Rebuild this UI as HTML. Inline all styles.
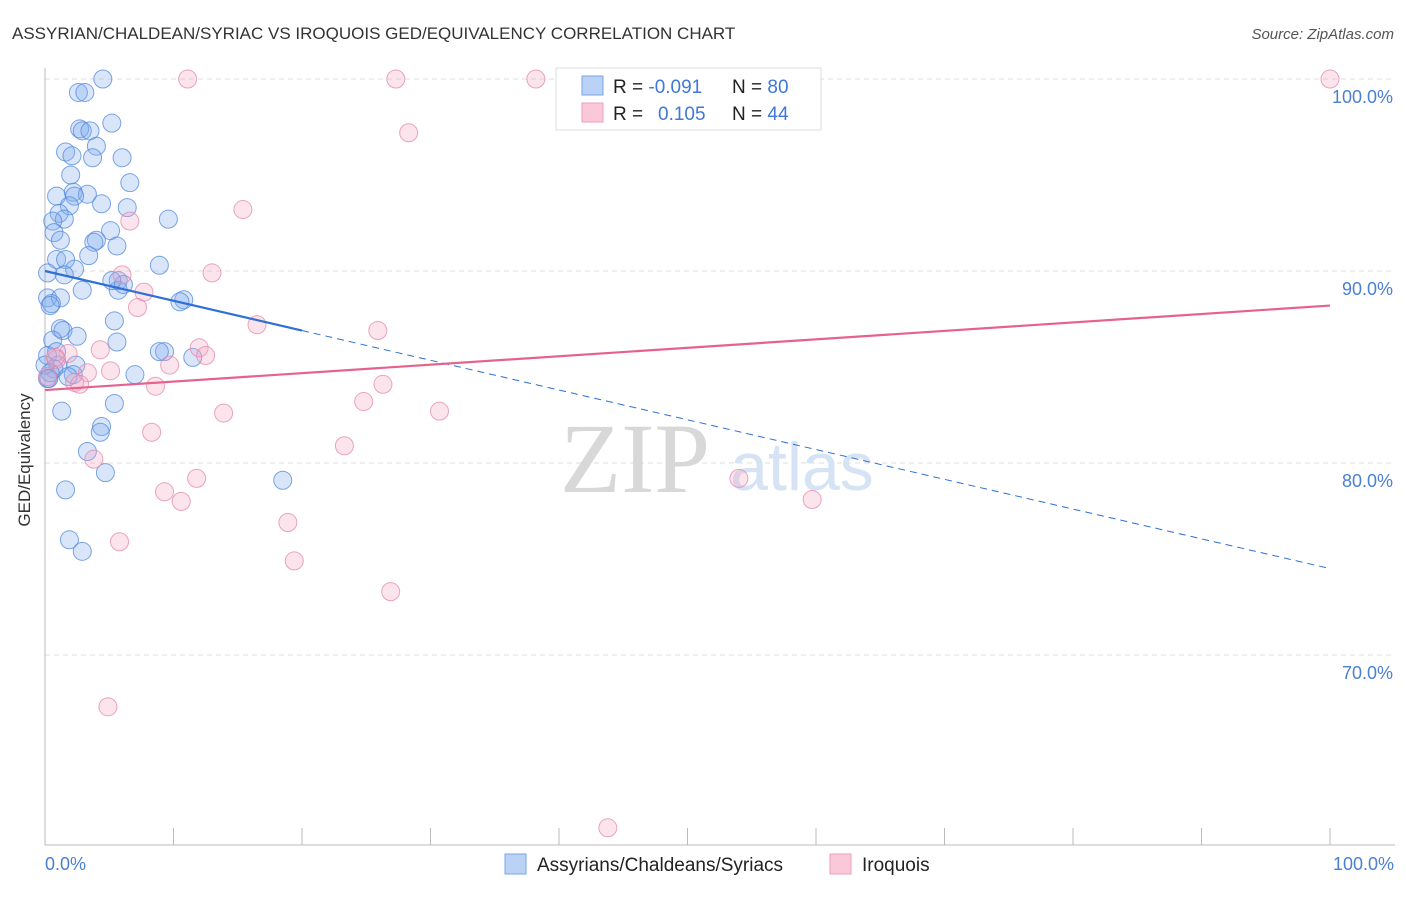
<!DOCTYPE html>
<html><head><meta charset="utf-8"><style>
body{margin:0;background:#fff;font-family:"Liberation Sans",sans-serif;}
svg text{font-family:"Liberation Sans",sans-serif;}
svg text.serif{font-family:"Liberation Serif",serif;}
</style></head><body>
<svg id="chart" width="1406" height="892" xmlns="http://www.w3.org/2000/svg">
<text x="12" y="39" font-size="17" fill="#333">ASSYRIAN/CHALDEAN/SYRIAC VS IROQUOIS GED/EQUIVALENCY CORRELATION CHART</text>
<text x="1394" y="39" font-size="15" fill="#555" font-style="italic" text-anchor="end">Source: ZipAtlas.com</text>
<g id="grid"></g>
<text class="serif" x="635" y="492" font-size="100" fill="#d8d8d8" text-anchor="middle">ZIP</text>
<text x="802" y="490" font-size="68" fill="#d6e3f5" text-anchor="middle">atlas</text>
<g id="pts"></g>
<g id="trends"></g>
<text x="30" y="460" font-size="17" fill="#333" text-anchor="middle" transform="rotate(-90 30 460)">GED/Equivalency</text>
<text x="45" y="870" font-size="18" fill="#4a7fd4">0.0%</text>
<text x="1394" y="870" font-size="18" fill="#4a7fd4" text-anchor="end">100.0%</text>
<g>
<rect x="556" y="68" width="265" height="62" fill="#fff" stroke="#ddd"/>
<rect x="582" y="76" width="21" height="19" fill="#b9d2f5" stroke="#7aa4e6"/>
<rect x="582" y="103" width="21" height="19" fill="#fac8d8" stroke="#eba0b8"/>
<text x="613" y="93" font-size="19" fill="#222">R = <tspan fill="#3f78d8">-0.091</tspan></text>
<text x="732" y="93" font-size="19" fill="#222">N = <tspan fill="#3f78d8">80</tspan></text>
<text x="613" y="120" font-size="19" fill="#222">R = <tspan fill="#3f78d8" x="658">0.105</tspan></text>
<text x="732" y="120" font-size="19" fill="#222">N = <tspan fill="#3f78d8">44</tspan></text>
</g>
<g>
<rect x="505" y="854" width="21" height="20" fill="#b9d2f5" stroke="#7aa4e6"/>
<text x="537" y="871" font-size="19" fill="#222">Assyrians/Chaldeans/Syriacs</text>
<rect x="830" y="854" width="21" height="20" fill="#fac8d8" stroke="#eba0b8"/>
<text x="862" y="871" font-size="19" fill="#222">Iroquois</text>
</g>
</svg>
<script>
const yTicks=[100,90,80,70];
const xTickVals=[0,10,20,30,40,50,60,70,80,90,100];
const blueX=[4.5,2.6,3.1,5.2,2.7,2.9,3.5,4.0,1.6,2.1,6.0,3.7,2.0,6.6,2.2,0.9,3.3,2.3,4.4,1.9,6.4,1.1,1.5,9.6,0.6,0.7,5.1,1.2,4.0,3.8,5.6,3.4,0.9,1.6,8.9,2.3,0.2,1.5,5.7,2.9,5.7,0.2,1.2,0.5,0.4,10.8,10.5,5.4,1.2,1.4,2.5,0.6,5.6,9.3,11.5,0.2,1.0,2.4,0.7,2.2,1.8,7.0,1.3,5.4,4.4,4.3,3.3,4.7,1.6,18.5,1.9,2.9,0.9,0.2,0.4,0.0,6.1,8.9,5.2,0.3];
const blueY=[100,99.3,99.3,97.7,97.4,97.3,97.3,96.5,96.2,96.0,95.9,95.9,95.0,94.6,94.1,93.9,94.0,93.9,93.5,93.4,93.3,93.0,92.7,92.7,92.6,92.0,92.1,91.6,91.6,91.5,91.3,90.8,90.6,90.6,90.3,90.1,89.9,89.8,89.5,89.0,89.0,88.6,88.6,88.3,88.2,88.5,88.4,87.4,87.0,86.9,86.6,86.4,86.3,85.8,85.5,85.6,85.1,85.1,84.9,84.6,84.5,84.6,82.7,83.1,81.9,81.6,80.6,79.5,78.6,79.1,76.0,75.4,85.8,84.4,84.7,85.1,89.3,85.8,89.5,84.4];
const pinkX=[11.1,27.3,38.2,100,28.3,15.4,6.6,13.0,6.0,7.7,7.2,16.5,25.9,12.0,4.3,12.5,1.8,0.9,9.7,5.1,3.3,2.3,2.7,8.6,26.3,24.8,13.9,30.7,8.3,23.3,3.8,9.3,11.8,10.6,54.0,59.7,18.9,5.8,19.4,26.9,4.9,43.8,0.8,0.2];
const pinkY=[100,100,100,100,97.2,93.2,92.6,89.9,89.8,88.9,88.1,87.2,86.9,86.0,85.9,85.6,85.7,85.4,85.1,84.8,84.7,84.2,84.1,84.0,84.1,83.2,82.6,82.7,81.6,80.9,80.2,78.5,79.2,78.0,79.2,78.1,76.9,75.9,74.9,73.3,67.3,61.0,85.5,84.5];
const blueTrend=[90.0,74.5];
const pinkTrend=[83.8,88.2];
const blueSolidEnd=20;

const NS="http://www.w3.org/2000/svg";
const sx=v=>45+v*12.85;
const sy=v=>79+(100-v)*19.2;
function mk(t,a,p){const e=document.createElementNS(NS,t);for(const k in a)e.setAttribute(k,a[k]);p.appendChild(e);return e;}
const grid=document.getElementById('grid');
yTicks.forEach(v=>{
  const l=mk('line',{x1:45,x2:1395,y1:sy(v),y2:sy(v),stroke:'#ddd','stroke-dasharray':'5,4'},grid);
  
  
  const t=mk('text',{x:1393,y:sy(v)+24,'font-size':18,fill:'#4a7fd4','text-anchor':'end'},grid);
  t.textContent=v.toFixed(1)+'%';
  
  
});
const ax=mk('line',{x1:45,x2:45,y1:68,y2:845,stroke:'#bbb'},grid);


const bx=mk('line',{x1:45,x2:1395,y1:845,y2:845,stroke:'#bbb'},grid);


xTickVals.forEach(v=>{
  const t=mk('line',{x1:sx(v),x2:sx(v),y1:828,y2:845,stroke:'#bbb'},grid);
  
  
});
const pts=document.getElementById('pts');
blueX.forEach((x,i)=>{
  const c=mk('circle',{cx:sx(x),cy:sy(blueY[i]),r:9,fill:'rgba(130,172,238,0.3)',stroke:'rgba(80,135,220,0.75)','stroke-width':1},pts);
  
  
});
pinkX.forEach((x,i)=>{
  const c=mk('circle',{cx:sx(x),cy:sy(pinkY[i]),r:9,fill:'rgba(245,165,195,0.3)',stroke:'rgba(228,135,170,0.75)','stroke-width':1},pts);
  
  
});
const tr=document.getElementById('trends');
const by=x=>blueTrend[0]+(blueTrend[1]-blueTrend[0])*x/100;
const b1=mk('line',{x1:sx(0),y1:sy(by(0)),x2:sx(blueSolidEnd),y2:sy(by(blueSolidEnd)),stroke:'#2f6fd6','stroke-width':2.2},tr);


const b2=mk('line',{x1:sx(blueSolidEnd),y1:sy(by(blueSolidEnd)),x2:sx(100),y2:sy(by(100)),stroke:'#2f6fd6','stroke-width':1,'stroke-dasharray':'7,5'},tr);


const p1=mk('line',{x1:sx(0),y1:sy(pinkTrend[0]),x2:sx(100),y2:sy(pinkTrend[1]),stroke:'#e5628e','stroke-width':2.2},tr);


</script>
</body></html>
